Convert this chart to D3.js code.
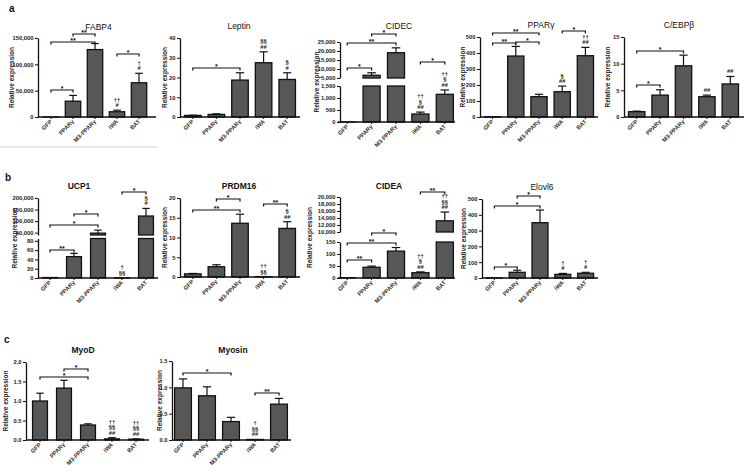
<!DOCTYPE html>
<html><head><meta charset="utf-8">
<script src="https://cdn.jsdelivr.net/npm/d3@7"></script>
<style>body{margin:0;background:#fff}svg{display:block}</style>
</head><body>
<svg id="c" width="750" height="474"></svg>
<script>
// ---------------- DATA ----------------
const categories = ["GFP", "PPARγ", "M3-PPARγ", "iWA", "BAT"];

const fabp4 = [1, 30000, 128000, 10000, 65000];
const fabp4Err = [0, 11000, 11500, 3000, 18000];
const fabp4Ticks = [0, 50000, 100000, 150000];

const leptin = [0.8, 1.3, 18.7, 27.5, 19];
const leptinErr = [0.1, 0.3, 3.7, 5.5, 3.4];
const leptinTicks = [0, 10, 20, 30, 40];

const cidec = [1, 6500, 19050, 333, 1154];
const cidecErr = [0, 1400, 2700, 80, 180];
const cidecTicksLow = [0, 500, 1000, 1500];
const cidecTicksHigh = [5000, 10000, 15000, 20000, 25000];

const pparg = [1, 381, 127, 158, 383];
const ppargErr = [0, 60, 15, 35, 52];
const ppargTicks = [0, 100, 200, 300, 400, 500];

const cebpb = [1.0, 4.1, 9.6, 3.8, 6.2];
const cebpbErr = [0.1, 1.0, 2.0, 0.3, 1.4];
const cebpbTicks = [0, 5, 10, 15];

const ucp1 = [1, 46, 48000, 0.5, 122000];
const ucp1Err = [0, 7, 13000, 0, 33000];
const ucp1TicksLow = [0, 20, 40, 60, 80];
const ucp1TicksHigh = [50000, 100000, 150000, 200000];

const prdm16 = [0.8, 2.6, 13.6, 0.1, 12.3];
const prdm16Err = [0.1, 0.5, 2.3, 0, 1.7];
const prdm16Ticks = [0, 5, 10, 15, 20];

const cidea = [1, 44.6, 112, 22, 13200];
const cideaErr = [0, 5, 15, 3.5, 2500];
const cideaTicksLow = [0, 50, 100, 150];
const cideaTicksHigh = [10000, 12000, 14000, 16000, 18000, 20000];

const elovl6 = [1, 36, 350, 23, 30];
const elovl6Err = [0, 13, 80, 6, 6];
const elovl6Ticks = [0, 100, 200, 300, 400, 500];

const myod = [1.0, 1.33, 0.385, 0.03, 0.02];
const myodErr = [0.2, 0.2, 0.03, 0.03, 0.01];
const myodTicks = [0, 0.5, 1.0, 1.5, 2.0];

const myosin = [0.99, 0.84, 0.35, 0.01, 0.68];
const myosinErr = [0.17, 0.17, 0.08, 0, 0.11];
const myosinTicks = [0, 0.5, 1.0, 1.5];

// significance brackets: [from, to, label]
const fabp4Sig = [[0,1,"*"],[0,2,"**"],[1,2,"**"],[3,4,"*"]];
const leptinSig = [[0,2,"*"]];
const cidecSig = [[0,1,"*"],[0,2,"**"],[1,2,"*"],[3,4,"*"]];
const ppargSig = [[0,1,"**"],[0,2,"**"],[1,2,"*"],[3,4,"*"]];
const cebpbSig = [[0,1,"*"],[0,2,"*"]];
const ucp1Sig = [[0,1,"**"],[0,2,"*"],[1,2,"*"],[3,4,"*"]];
const prdm16Sig = [[0,2,"**"],[1,2,"*"],[3,4,"**"]];
const cideaSig = [[0,1,"**"],[0,2,"**"],[1,2,"*"],[3,4,"**"]];
const elovl6Sig = [[0,1,"*"],[0,2,"*"],[1,2,"*"]];
const myodSig = [[0,2,"*"],[1,2,"*"]];
const myosinSig = [[0,2,"*"],[3,4,"**"]];

// symbols above bars: [barIndex, lines top->bottom]
const fabp4Marks = [[3,["††","#"]],[4,["†","#"]]];
const leptinMarks = [[3,["§§","##"]],[4,["§","#"]]];
const cidecMarks = [[3,["††","§","##"]],[4,["††","§","##"]]];
const ppargMarks = [[3,["§","##"]],[4,["††","##"]]];
const cebpbMarks = [[3,["##"]],[4,["##"]]];
const ucp1Marks = [[3,["†","§§"]],[4,["§","#"]]];
const prdm16Marks = [[3,["††","§§"]],[4,["§","##"]]];
const cideaMarks = [[3,["††","§","##"]],[4,["††","§§","##"]]];
const elovl6Marks = [[3,["†","#"]],[4,["†","#"]]];
const myodMarks = [[3,["††","§§","##"]],[4,["††","§§","##"]]];
const myosinMarks = [[3,["†","§§","##"]]];

const panelLetters = ["a", "b", "c"];

// ---------------- LAYOUT ----------------
const fmtC = d3.format(",");
const fmtD = d3.format("d");
const fmt1 = d3.format(".1f");

const charts = [
  {title:"FABP4", v:fabp4, e:fabp4Err, ticks:fabp4Ticks, sig:fabp4Sig, marks:fabp4Marks, fmt:fmtC,
   L:{ax:38, bx0:40, bx1:150, xEnd:156, y0:117, yTop:38, max:150000, tx:98.5, ty:29.5, tw:"normal", yl:12, sigY:[90,42,34,54]}},
  {title:"Leptin", v:leptin, e:leptinErr, ticks:leptinTicks, sig:leptinSig, marks:leptinMarks, fmt:fmtD,
   L:{ax:180, bx0:181, bx1:299, xEnd:300, y0:117, yTop:38, max:40, tx:239, ty:29, tw:"normal", yl:165, sigY:[68]}},
  {title:"CIDEC", v:cidec, e:cidecErr, ticksLow:cidecTicksLow, ticksHigh:cidecTicksHigh, sig:cidecSig, marks:cidecMarks, fmt:fmtC,
   L:{ax:340, bx0:335, bx1:457, xEnd:455, y0:122, broken:true, lowMax:1500, lowTopY:86, highMin:5000, highMax:25000, highBottomY:78, yTop:42, tx:399, ty:28.5, tw:"normal", yl:317, sigY:[68,43,34,62]}},
  {title:"PPARγ", v:pparg, e:ppargErr, ticks:ppargTicks, sig:ppargSig, marks:ppargMarks, fmt:fmtD,
   L:{ax:480, bx0:481, bx1:597, xEnd:598, y0:117, yTop:37, max:500, tx:541, ty:28, tw:"normal", yl:463, sigY:[43,33,42,31]}},
  {title:"C/EBPβ", v:cebpb, e:cebpbErr, ticks:cebpbTicks, sig:cebpbSig, marks:cebpbMarks, fmt:fmtD,
   L:{ax:624, bx0:625, bx1:742, xEnd:744, y0:117, yTop:37, max:15, tx:679, ty:27.5, tw:"normal", yl:608, sigY:[85,51]}},
  {title:"UCP1", v:ucp1, e:ucp1Err, ticksLow:ucp1TicksLow, ticksHigh:ucp1TicksHigh, sig:ucp1Sig, marks:ucp1Marks, fmt:fmtC,
   L:{ax:38, bx0:38, bx1:158, xEnd:158, y0:278, broken:true, lowMax:85, lowTopY:238.5, highMin:40000, highMax:200000, highBottomY:235, yTop:198, tx:79, ty:189, tw:"bold", yl:15, barFrac:0.62, sigY:[250,225,214,192]}},
  {title:"PRDM16", v:prdm16, e:prdm16Err, ticks:prdm16Ticks, sig:prdm16Sig, marks:prdm16Marks, fmt:fmtD,
   L:{ax:180, bx0:181, bx1:299, xEnd:300, y0:277, yTop:198, max:20, tx:239, ty:189, tw:"bold", yl:165, sigY:[210,199,204]}},
  {title:"CIDEA", v:cidea, e:cideaErr, ticksLow:cideaTicksLow, ticksHigh:cideaTicksHigh, sig:cideaSig, marks:cideaMarks, fmt:fmtC,
   L:{ax:340, bx0:335, bx1:457, xEnd:455, y0:278, broken:true, lowMax:150, lowTopY:242, highMin:10000, highMax:20000, highBottomY:232, yTop:197, tx:389, ty:189, tw:"bold", yl:310, sigY:[260,243,233,192]}},
  {title:"Elovl6", v:elovl6, e:elovl6Err, ticks:elovl6Ticks, sig:elovl6Sig, marks:elovl6Marks, fmt:fmtD,
   L:{ax:482, bx0:483, bx1:597, xEnd:598, y0:278, yTop:199, max:500, tx:542, ty:190, tw:"normal", yl:464, sigY:[267,206,196]}},
  {title:"MyoD", v:myod, e:myodErr, ticks:myodTicks, sig:myodSig, marks:myodMarks, fmt:fmt1,
   L:{ax:26, bx0:28, bx1:148, xEnd:149, y0:440, yTop:362, max:2.0, tx:83, ty:353, tw:"bold", yl:6, barFrac:0.62, sigY:[377,369]}},
  {title:"Myosin", v:myosin, e:myosinErr, ticks:myosinTicks, sig:myosinSig, marks:myosinMarks, fmt:fmt1,
   L:{ax:172, bx0:171, bx1:291, xEnd:291, y0:440, yTop:361, max:1.5, tx:233, ty:353, tw:"bold", yl:160, sigY:[373,393]}}
];

const letterPos = [[9, 12], [5, 181], [4, 343]];

// ---------------- DRAW ----------------
const FONT = "'Liberation Sans', Arial, Helvetica, sans-serif";
const svg = d3.select("#c").style("font-family", FONT);

svg.append("line").attr("x1", 0).attr("x2", 158).attr("y1", 147).attr("y2", 147)
  .attr("stroke", "#d4d4d4").attr("stroke-width", 1);

panelLetters.forEach((t, i) => {
  svg.append("text").attr("x", letterPos[i][0]).attr("y", letterPos[i][1])
    .attr("font-size", 10).attr("font-weight", "bold").attr("fill", "#111").text(t);
});

function styleAxis(a) {
  a.selectAll("path.domain").attr("stroke", "#111").attr("stroke-width", 1.3);
  a.selectAll(".tick line").attr("stroke", "#111").attr("stroke-width", 1);
  a.selectAll(".tick text").attr("font-size", 5.8).attr("font-weight", "bold")
    .attr("fill", "#222").attr("font-family", FONT);
}

function drawChart(ch) {
  const L = ch.L;
  const g = svg.append("g");
  const x = d3.scaleBand().domain(categories).range([L.bx0, L.bx1]);
  const cx = i => x(categories[i]) + x.bandwidth() / 2;
  const bw = x.bandwidth() * (L.barFrac || 0.7);

  let y, yLow, yHigh;
  if (L.broken) {
    yLow = d3.scaleLinear().domain([0, L.lowMax]).range([L.y0, L.lowTopY]);
    yHigh = d3.scaleLinear().domain([L.highMin, L.highMax]).range([L.highBottomY, L.yTop]);
    y = v => v <= L.lowMax ? yLow(v) : yHigh(Math.max(v, L.highMin));
  } else {
    y = d3.scaleLinear().domain([0, L.max]).range([L.y0, L.yTop]);
  }

  // bars
  ch.v.forEach((v, i) => {
    const segs = [];
    if (L.broken && v > L.lowMax) {
      segs.push([L.lowTopY, L.y0]);
      segs.push([yHigh(v), L.highBottomY]);
    } else {
      segs.push([y(v), L.y0]);
    }
    segs.forEach(s => {
      g.append("rect").attr("x", cx(i) - bw / 2).attr("width", bw)
        .attr("y", s[0]).attr("height", Math.max(0, s[1] - s[0]))
        .attr("fill", "#575757").attr("stroke", "#111").attr("stroke-width", 1.3);
    });
    const e = ch.e[i];
    if (e > 0) {
      const yt = y(v), ye = y(v + e);
      g.append("line").attr("x1", cx(i)).attr("x2", cx(i)).attr("y1", yt).attr("y2", ye)
        .attr("stroke", "#111").attr("stroke-width", 1.2);
      g.append("line").attr("x1", cx(i) - bw * 0.25).attr("x2", cx(i) + bw * 0.25)
        .attr("y1", ye).attr("y2", ye).attr("stroke", "#111").attr("stroke-width", 1.2);
    }
  });

  // y axis
  if (L.broken) {
    const a1 = g.append("g").attr("transform", `translate(${L.ax},0)`)
      .call(d3.axisLeft(yLow).tickValues(ch.ticksLow).tickFormat(ch.fmt).tickSize(3).tickSizeOuter(0).tickPadding(1.5));
    const a2 = g.append("g").attr("transform", `translate(${L.ax},0)`)
      .call(d3.axisLeft(yHigh).tickValues(ch.ticksHigh).tickFormat(ch.fmt).tickSize(3).tickSizeOuter(0).tickPadding(1.5));
    styleAxis(a1); styleAxis(a2);
  } else {
    const a = g.append("g").attr("transform", `translate(${L.ax},0)`)
      .call(d3.axisLeft(y).tickValues(ch.ticks).tickFormat(ch.fmt).tickSize(3).tickSizeOuter(0).tickPadding(1.5));
    styleAxis(a);
  }

  // x axis
  g.append("line").attr("x1", L.ax).attr("x2", L.xEnd).attr("y1", L.y0).attr("y2", L.y0)
    .attr("stroke", "#111").attr("stroke-width", 1.3);
  categories.forEach((c, i) => {
    g.append("line").attr("x1", cx(i)).attr("x2", cx(i)).attr("y1", L.y0).attr("y2", L.y0 + 2)
      .attr("stroke", "#111").attr("stroke-width", 1);
    g.append("text").attr("transform", `translate(${cx(i) + 1.5},${L.y0 + 5}) rotate(-45)`)
      .attr("text-anchor", "end").attr("font-size", 5.8).attr("font-weight", "bold")
      .attr("fill", "#333").text(c);
  });

  // title
  g.append("text").attr("x", L.tx).attr("y", L.ty).attr("text-anchor", "middle")
    .attr("font-size", 8.5).attr("font-weight", L.tw).attr("fill", "#111").text(ch.title);

  // y label
  const midY = (L.y0 + L.yTop) / 2;
  g.append("text").attr("transform", `translate(${L.yl},${midY}) rotate(-90)`)
    .attr("text-anchor", "middle").attr("dominant-baseline", "middle")
    .attr("font-size", 6.5).attr("font-weight", "bold").attr("fill", "#222").text("Relative expression");

  // significance brackets
  ch.sig.forEach((s, k) => {
    const yy = L.sigY[k];
    const x1 = cx(s[0]), x2 = cx(s[1]);
    g.append("path").attr("d", `M${x1},${yy + 2.5}V${yy}H${x2}V${yy + 2.5}`)
      .attr("fill", "none").attr("stroke", "#111").attr("stroke-width", 1.2);
    g.append("text").attr("x", (x1 + x2) / 2).attr("y", yy + 0.5).attr("text-anchor", "middle")
      .attr("font-size", 7).attr("font-weight", "bold").attr("fill", "#111").text(s[2]);
  });

  // symbols above bars
  ch.marks.forEach(m => {
    const i = m[0];
    const top = y(ch.v[i] + ch.e[i]);
    const lines = m[1];
    lines.forEach((t, k) => {
      const fromBottom = lines.length - 1 - k;
      g.append("text").attr("x", cx(i)).attr("y", top - 3 - fromBottom * 5.5)
        .attr("text-anchor", "middle").attr("font-size", 5.8).attr("font-weight", "bold")
        .attr("fill", "#222").text(t);
    });
  });
}

charts.forEach(drawChart);
</script>
</body></html>
